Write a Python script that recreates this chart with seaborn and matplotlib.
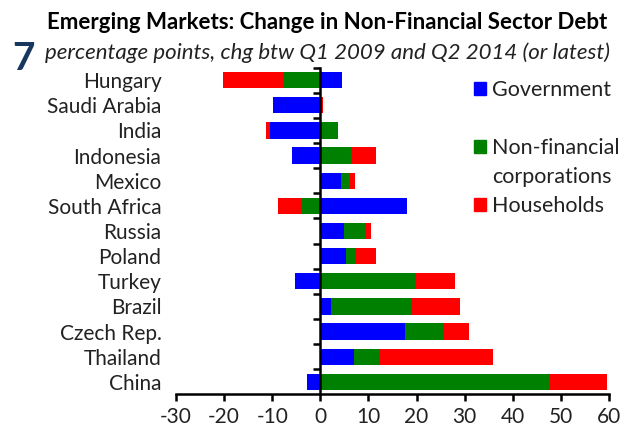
import numpy as np
import pandas as pd
import matplotlib
matplotlib.use("Agg")
import matplotlib.pyplot as plt
import seaborn as sns
from matplotlib.patches import Patch
from matplotlib.ticker import FixedLocator

# data (percentage points)
countries = ["Hungary", "Saudi Arabia", "India", "Indonesia", "Mexico",
             "South Africa", "Russia", "Poland", "Turkey", "Brazil",
             "Czech Rep.", "Thailand", "China"]
government = [4.6, -9.8, -10.5, -5.9, 4.3, 18.0, 4.9, 5.4, -5.3, 2.2, 17.5, 7.0, -2.8]
non_financial = [-7.6, 0.4, 3.6, 6.4, 1.9, -3.9, 4.4, 2.0, 19.6, 16.6, 8.3, 5.4, 47.7]
households = [-12.7, 0.2, -0.8, 5.2, 1.1, -4.9, 1.2, 4.1, 8.3, 10.2, 5.2, 23.5, 11.9]

x_ticks = [-30, -20, -10, 0, 10, 20, 30, 40, 50, 60]
series = ["Government", "Non-financial", "Households"]
colors = ["#0000FF", "#008000", "#FF0000"]

df = pd.DataFrame({"country": countries, "Government": government,
                   "Non-financial": non_financial, "Households": households})

# stack positive and negative parts outward from zero, gov -> nfc -> hh
pos = df[series].clip(lower=0).cumsum(axis=1)
neg = df[series].clip(upper=0).cumsum(axis=1)

sns.set_style("white")
plt.rcParams["font.family"] = ["Lato", "DejaVu Sans"]

fig = plt.figure(figsize=(6.31, 4.33), dpi=100)
ax = fig.add_axes([0.279, 0.089, 0.686, 0.755])

# draw outermost layer first so inner layers cover it
for s, c in reversed(list(zip(series, colors))):
    for part in (pos, neg):
        sns.barplot(x=part[s], y=df["country"], orient="h", color=c,
                    width=0.65, linewidth=0, saturation=1, ax=ax)

ax.set_xlim(-30, 60)
ax.set_ylim(len(countries) - 0.5, -0.5)
ax.set_xticks(x_ticks)
ax.set_xticklabels([str(t) for t in x_ticks])
ax.set_yticks(range(len(countries)))
ax.set_yticklabels(countries)
ax.set_xlabel("")
ax.set_ylabel("")

# zero line with ticks between categories
ax.spines["left"].set_visible(False)
ax.spines["top"].set_visible(False)
ax.spines["right"].set_position(("data", 0))
ax.spines["right"].set_linewidth(1.8)
ax.spines["right"].set_color("black")
ax.spines["bottom"].set_linewidth(1.8)
ax.spines["bottom"].set_color("black")
ax.yaxis.set_minor_locator(FixedLocator(np.arange(-0.5, len(countries) - 1, 1.0)))
ax.tick_params(axis="y", which="major", left=True, right=False, length=0, pad=10.5,
               labelsize=15, labelcolor="#222222")
ax.tick_params(axis="y", which="minor", left=False, right=True, direction="in",
               length=5, width=1.8, color="black")
ax.tick_params(axis="x", which="major", bottom=True, direction="out", length=5,
               width=1.8, color="black", pad=4, labelsize=15, labelcolor="#222222")

# legend
blank = Patch(facecolor="none", edgecolor="none")
handles = [Patch(color=colors[0]), blank, Patch(color=colors[1]), blank, Patch(color=colors[2])]
labels = ["Government", "", "Non-financial", "corporations", "Households"]
fig.legend(handles, labels, loc="upper left", bbox_to_anchor=(0.751, 0.816),
           frameon=False, fontsize=15.5, handlelength=0.55, handleheight=0.55,
           handletextpad=0.3, labelspacing=0.42, borderaxespad=0, borderpad=0,
           labelcolor="#222222")

fig.text(0.519, 0.932, "Emerging Markets: Change in Non-Financial Sector Debt",
         ha="center", va="baseline", fontsize=16, fontweight="bold", color="black")
fig.text(0.519, 0.864, "percentage points, chg btw Q1 2009 and Q2 2014 (or latest)",
         ha="center", va="baseline", fontsize=16, style="italic", color="#222222")
fig.text(0.02, 0.838, "7", ha="left", va="baseline", fontsize=28,
         fontweight="bold", color="#17375E")

fig.savefig("out.png", dpi=100)
